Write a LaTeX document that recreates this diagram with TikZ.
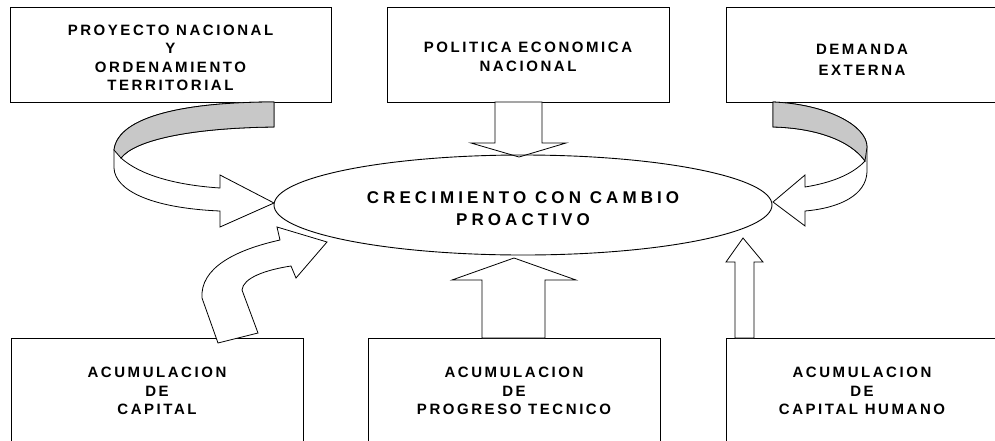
\documentclass[tikz,border=0pt]{standalone}
\usepackage{fontspec}
\setmainfont{Liberation Sans}
\newfontfamily\boxfont{Liberation Sans}[LetterSpace=17]
\newfontfamily\ellfont{Liberation Sans}[LetterSpace=24]
\usepackage{tikz}
\usepackage{xcolor}
\definecolor{ribbon}{RGB}{200,200,200}
\newcommand{\lift}[1]{\rule{0pt}{#1}}

\tikzset{
  box/.style={draw, line width=0.9pt, inner sep=0pt, align=center,
    font=\boxfont\bfseries\fontsize{15}{18.5}\selectfont},
  toprow/.style={box, minimum height=95pt},
  botrow/.style={box, minimum height=106pt},
  blockarrow/.style={draw, line width=0.8pt, fill=white, line join=miter},
}

\begin{document}
\begin{tikzpicture}[x=1pt, y=-1pt]
	\useasboundingbox (0,0) rectangle (995,440);
	
	% cajas superiores
	\node[toprow, minimum width=321pt] (proy) at (170.5,54.5) {\lift{17pt}PROYECTO NACIONAL\\Y\\ORDENAMIENTO\\TERRITORIAL};
	\node[toprow, minimum width=282pt] (pol) at (528,54.5) {\lift{15pt}POLITICA ECONOMICA\\NACIONAL};
	\node[toprow, minimum width=272pt] (dem) at (862,54.5) {\lift{20pt}DEMANDA\\[2.5pt]EXTERNA};
	
	% cajas inferiores
	\node[botrow, minimum width=292pt] (acap) at (157,391) {ACUMULACION\\DE\\CAPITAL};
	\node[botrow, minimum width=292pt] (aprog) at (514,391) {ACUMULACION\\DE\\PROGRESO TECNICO};
	\node[botrow, minimum width=272pt] (ahum) at (862,391) {ACUMULACION\\DE\\CAPITAL HUMANO};
	
	% flechas rectas
	\draw[blockarrow] (495,102) -- (495,143) -- (471,143) -- (519,157) -- (566,143) -- (542,143) -- (542,102) -- cycle;
	\draw[blockarrow] (482,338) -- (482,280) -- (452,280) -- (514,258) -- (576,280) -- (545,280) -- (545,338) -- cycle;
	\draw[blockarrow] (735,338) -- (735,262) -- (726,262) -- (743,238) -- (763,262) -- (754,262) -- (754,338) -- cycle;
	
	% flecha curva izquierda
	\draw[blockarrow] (274,102) .. controls (190,102) and (118,115) .. (114,150) -- (114,168)
		.. controls (115,190) and (150,208) .. (220,211) -- (220,227) -- (274,203) -- (220,175) -- (220,188)
		.. controls (175,185) and (140,175) .. (121,158) .. controls (135,140) and (190,128) .. (274,127) -- cycle;
	\draw[line width=0.8pt, fill=ribbon] (274,102) .. controls (190,102) and (118,115) .. (114,150) -- (121,158)
		.. controls (135,140) and (190,128) .. (274,127) -- cycle;
	
	% flecha curva derecha
	\draw[blockarrow] (773,102) .. controls (825,104) and (867,125) .. (867,147) -- (867,172)
		.. controls (866,195) and (840,208) .. (805,211) -- (805,226) -- (773,202) -- (805,175) -- (805,187)
		.. controls (830,183) and (852,175) .. (865,161) .. controls (850,140) and (815,128) .. (773,127) -- cycle;
	\draw[line width=0.8pt, fill=ribbon] (773,102) .. controls (825,104) and (867,125) .. (867,147) -- (865,161)
		.. controls (850,140) and (815,128) .. (773,127) -- cycle;
	
	% flecha curva abajo
	\draw[blockarrow] (218,343) -- (202,298) .. controls (200,268) and (235,250) .. (280,240) -- (277,227)
		-- (327,242) -- (296,278) -- (291,266) .. controls (265,270) and (243,278) .. (242,290) -- (258,333) -- cycle;
	
	% elipse central
	\draw[line width=0.9pt] (523,205) ellipse [x radius=249, y radius=50];
	\node[align=center, inner sep=0pt, font=\ellfont\bfseries\fontsize{17}{22}\selectfont] (crec) at (523,209)
		{CRECIMIENTO CON CAMBIO\\PROACTIVO};
	
\end{tikzpicture}
\end{document}
